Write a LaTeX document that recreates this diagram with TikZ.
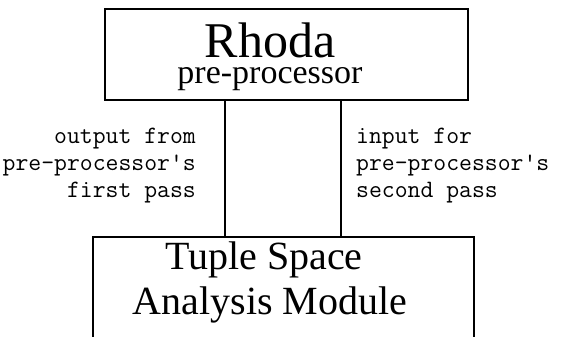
\documentclass[tikz,border=0pt]{standalone}
\usepackage{fontspec}
\setmainfont{Liberation Serif}
\begin{document}
\begin{tikzpicture}[x=1pt,y=1pt,
  boxstyle/.style={draw=black, line width=1.8pt, inner sep=0pt},
  bigtext/.style={inner sep=0pt, anchor=base},
  labelL/.style={inner sep=0pt, anchor=base east, align=right, font=\fontsize{25}{27}\selectfont\ttfamily},
  labelR/.style={inner sep=0pt, anchor=base west, align=left, font=\fontsize{25}{27}\selectfont\ttfamily},
  link/.style={draw=black, line width=2.8pt}]
\useasboundingbox (0,0) rectangle (563,337);
\clip (0,0) rectangle (563,337);
% boxes
\node[boxstyle, minimum width=363pt, minimum height=91pt] (top) at (286.5,282.5) {};
\node[boxstyle, minimum width=381pt, minimum height=200pt] (bot) at (283.5,0) {};
% texts
\node[bigtext, align=center, font=\fontsize{50}{26}\selectfont] (rhoda) at (270,253)
  {Rhoda\\{\fontsize{34}{26}\selectfont pre-processor}};
\node[bigtext, text depth=0pt, font=\fontsize{40}{45}\selectfont] (tuple) at (264,67) {Tuple Space};
\node[bigtext, text height=26pt, font=\fontsize{40}{45}\selectfont] (anal) at (270,22) {Analysis Module};
% connectors
\coordinate (c1) at (225,150);
\coordinate (c2) at (341,150);
\draw[link] (top.south -| c1) -- (bot.north -| c1);
\draw[link] (top.south -| c2) -- (bot.north -| c2);
% labels
\node[labelL] (outlab) at (196,139) {output from\\pre-processor's\\first pass};
\node[labelR] (inlab) at (356,139) {input for\\pre-processor's\\second pass};
\end{tikzpicture}
\end{document}
